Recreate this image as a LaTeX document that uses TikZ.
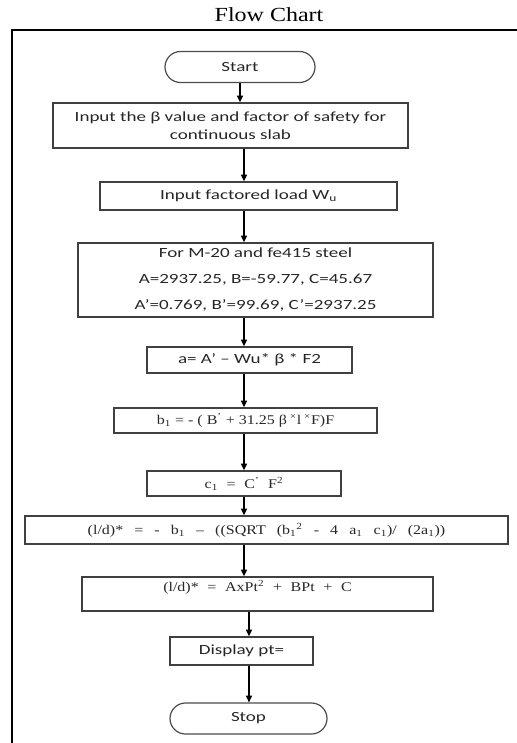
\documentclass[tikz,border=0pt]{standalone}
\usepackage{fontspec}
\usetikzlibrary{arrows.meta,shapes.misc}
\newfontfamily\carl[FakeStretch=1.36]{Carlito}
\newfontfamily\tim[FakeStretch=1.2]{Liberation Serif}
\tikzset{
  box/.style={draw=black!75, line width=1.1pt, rectangle, inner sep=0pt, align=center, text=black!85},
  sbox/.style={box, font=\carl\fontsize{10.5}{13.6}\selectfont},
  tbox/.style={box, font=\tim\fontsize{10}{12}\selectfont},
  term/.style={draw=black!70, line width=0.9pt, rounded rectangle, inner sep=0pt, font=\carl\fontsize{10.5}{12}\selectfont, text=black!85},
  arr/.style={draw=black, line width=1pt, -{Triangle[length=5pt,width=4.5pt]}},
  frame/.style={draw=black, line width=1.7pt}
}
\begin{document}
\begin{tikzpicture}[x=0.75pt,y=-0.75pt]
\useasboundingbox (0,0) rectangle (517,743);
\node[font=\tim\fontsize{15}{18}\selectfont] (title) at (269,15) {Flow Chart};
\coordinate (fl) at (12,743);
\coordinate (ftl) at (12,30);
\coordinate (ftr) at (517,30);
\draw[frame] (fl) -- (ftl) -- (ftr);
\node[term, minimum width=150*0.75pt, minimum height=31*0.75pt] (start) at (240,67) {Start};
\node[sbox, minimum width=355*0.75pt, minimum height=45*0.75pt] (b1) at (230.5,125.5) {Input the β value and factor of safety for\\continuous slab};
\node[sbox, minimum width=297*0.75pt, minimum height=28*0.75pt] (b2) at (248.5,196) {Input factored load W\textsubscript{u}};
\node[sbox, font=\carl\fontsize{10.5}{19.5}\selectfont, minimum width=355*0.75pt, minimum height=74*0.75pt] (b3) at (255.5,280) {For M-20 and fe415 steel\\A=2937.25, B=-59.77, C=45.67\\A’=0.769, B’=99.69, C’=2937.25};
\node[sbox, minimum width=205*0.75pt, minimum height=26*0.75pt] (b4) at (249.5,360) {a= A’ – Wu* β * F2};
\node[tbox, minimum width=263*0.75pt, minimum height=25*0.75pt] (b5) at (245.5,420.5) {b\textsubscript{1} = - ( B\textsuperscript{’} + 31.25 β\textsuperscript{ ×}l\textsuperscript{ ×}F)F};
\node[tbox, font={\tim\fontsize{10}{12}\selectfont\spaceskip=6.5pt\relax}, minimum width=194*0.75pt, minimum height=25*0.75pt] (b6) at (244,483.5) {c\textsubscript{1} = C\textsuperscript{’} F\textsuperscript{2}};
\node[tbox, font={\tim\fontsize{10}{12}\selectfont\spaceskip=8.3pt\relax}, minimum width=483*0.75pt, minimum height=28*0.75pt] (b7) at (266.5,530) {(l/d)* = - b\textsubscript{1} – ((SQRT (b\textsubscript{1}\textsuperscript{2} - 4 a\textsubscript{1} c\textsubscript{1})/ (2a\textsubscript{1}))};
\node[tbox, font={\tim\fontsize{10}{12}\selectfont\spaceskip=6.5pt\relax}, minimum width=351*0.75pt, minimum height=34*0.75pt, text depth=12pt] (b8) at (257.5,594) {(l/d)* = AxPt\textsuperscript{2} + BPt + C};
\node[sbox, minimum width=143*0.75pt, minimum height=28*0.75pt] (b9) at (241.5,651) {Display pt=};
\node[term, minimum width=157*0.75pt, minimum height=31*0.75pt] (stop) at (248.5,718.5) {Stop};
\coordinate (ax) at (244,0);
\coordinate (bx) at (249,0);
\draw[arr] (start.south) -- (b1.north -| start.south);
\draw[arr] (b1.south -| ax) -- (b2.north -| ax);
\draw[arr] (b2.south -| ax) -- (b3.north -| ax);
\draw[arr] (b3.south -| ax) -- (b4.north -| ax);
\draw[arr] (b4.south -| ax) -- (b5.north -| ax);
\draw[arr] (b5.south -| ax) -- (b6.north -| ax);
\draw[arr] (b6.south -| ax) -- (b7.north -| ax);
\draw[arr] (b7.south -| ax) -- (b8.north -| ax);
\draw[arr] (b8.south -| bx) -- (b9.north -| bx);
\draw[arr] (b9.south -| bx) -- (stop.north -| bx);
\end{tikzpicture}
\end{document}
